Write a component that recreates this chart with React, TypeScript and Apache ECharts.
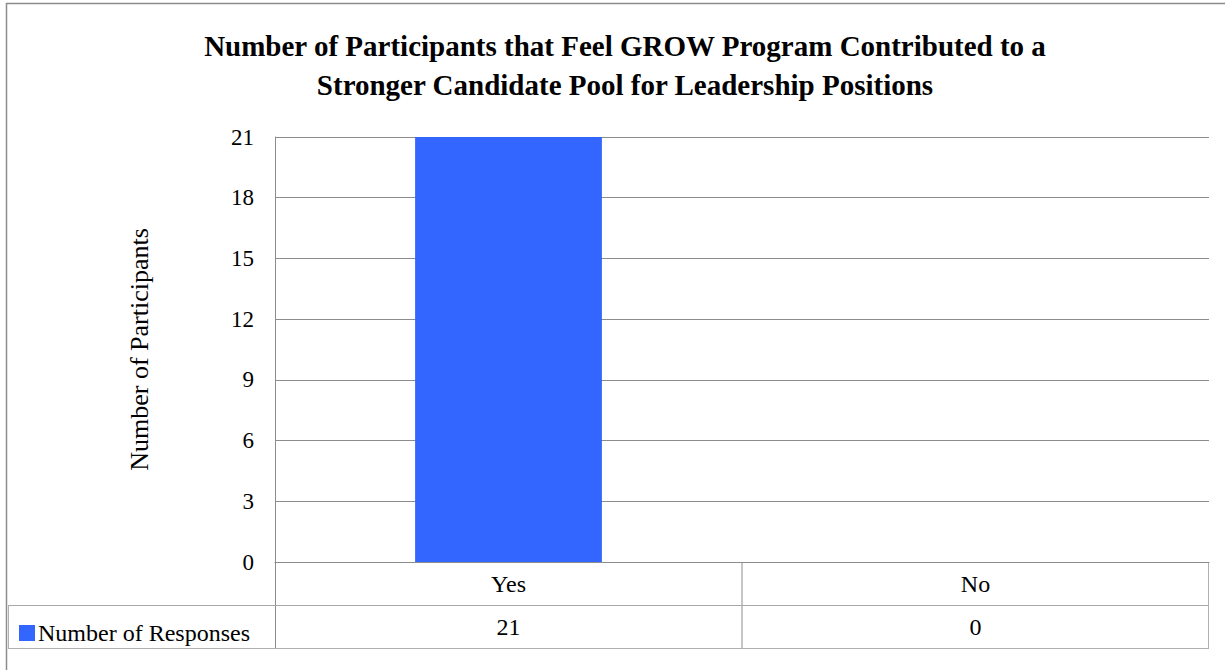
import React, { useEffect, useRef } from "react";
import * as echarts from "echarts";

const categories = ["Yes", "No"];
const responses = [21, 0];
const seriesName = "Number of Responses";
const yTicks = { min: 0, max: 21, interval: 3 };
const titleLines = [
  "Number of Participants that Feel GROW Program Contributed to a",
  "Stronger Candidate Pool for Leadership Positions",
];
const yAxisName = "Number of Participants";

const FONT = "'Liberation Serif', 'Times New Roman', serif";
const GRID_COLOR = "#8c8c8c";
const BAR_COLOR = "#3366ff";

export default function App() {
  const ref = useRef<HTMLDivElement>(null);
  useEffect(() => {
    document.body.style.margin = "0";
    const chart = echarts.init(ref.current!, null, { renderer: "svg" });
    const gridLeft = 275, gridTop = 137, gridRight = 1209, gridBottom = 562;
    const rowH = 43;
    const midX = (gridLeft + gridRight) / 2;
    chart.setOption({
      animation: false,
      backgroundColor: "#ffffff",
      title: {
        text: titleLines.join("\n"),
        left: 620,
        top: 21,
        textAlign: "center",
        textStyle: { fontFamily: FONT, fontSize: 29, fontWeight: "bold", color: "#000", lineHeight: 39 },
      },
      legend: {
        left: 14,
        top: 616,
        icon: "rect",
        itemWidth: 16,
        itemHeight: 16,
        itemGap: 6,
        textStyle: { fontFamily: FONT, fontSize: 24, color: "#000", padding: [0, 0, 0, -2] },
        data: [seriesName],
      },
      grid: { left: gridLeft, top: gridTop, right: 1225 - gridRight, bottom: 670 - gridBottom, containLabel: false },
      xAxis: {
        type: "category",
        data: categories,
        axisLine: { show: true, lineStyle: { color: GRID_COLOR, width: 1 } },
        axisTick: { show: false },
        axisLabel: {
          margin: 0,
          interval: 0,
          formatter: (v: string, i: number) => `{c|${v}}\n{v|${responses[i]}}`,
          rich: {
            c: { fontFamily: FONT, fontSize: 24, color: "#000", lineHeight: rowH, height: rowH },
            v: { fontFamily: FONT, fontSize: 24, color: "#000", lineHeight: rowH, height: rowH },
          },
        },
      },
      yAxis: {
        type: "value",
        min: yTicks.min,
        max: yTicks.max,
        interval: yTicks.interval,
        name: yAxisName,
        nameLocation: "middle",
        nameGap: 123,
        nameTextStyle: { fontFamily: FONT, fontSize: 26, color: "#000" },
        axisLine: { show: true, lineStyle: { color: GRID_COLOR, width: 1 } },
        axisTick: { show: false },
        axisLabel: { fontFamily: FONT, fontSize: 23, color: "#000", margin: 21 },
        splitLine: { show: true, lineStyle: { color: GRID_COLOR, width: 1 } },
      },
      series: [
        {
          name: seriesName,
          type: "bar",
          data: responses,
          barWidth: "40%",
          itemStyle: { color: BAR_COLOR },
        },
      ],
      graphic: [
        { type: "line", shape: { x1: 6, y1: 3.5, x2: 1225, y2: 3.5 }, style: { stroke: GRID_COLOR, lineWidth: 1.5 } },
        { type: "line", shape: { x1: 6.5, y1: 3, x2: 6.5, y2: 670 }, style: { stroke: GRID_COLOR, lineWidth: 1.5 } },
        { type: "line", shape: { x1: gridLeft + 0.5, y1: gridBottom, x2: gridLeft + 0.5, y2: gridBottom + 2 * rowH }, style: { stroke: GRID_COLOR, lineWidth: 1 } },
        { type: "line", shape: { x1: midX, y1: gridBottom, x2: midX, y2: gridBottom + 2 * rowH }, style: { stroke: GRID_COLOR, lineWidth: 1 } },
        { type: "line", shape: { x1: gridRight - 0.5, y1: gridBottom, x2: gridRight - 0.5, y2: gridBottom + 2 * rowH }, style: { stroke: "#b0b0b0", lineWidth: 1 } },
        { type: "line", shape: { x1: 8, y1: gridBottom + rowH + 0.5, x2: gridRight, y2: gridBottom + rowH + 0.5 }, style: { stroke: "#a8a8a8", lineWidth: 1 } },
        { type: "line", shape: { x1: 8, y1: gridBottom + 2 * rowH + 0.5, x2: gridRight, y2: gridBottom + 2 * rowH + 0.5 }, style: { stroke: "#b0b0b0", lineWidth: 1 } },
        { type: "line", shape: { x1: 8.5, y1: gridBottom + rowH, x2: 8.5, y2: gridBottom + 2 * rowH }, style: { stroke: "#b0b0b0", lineWidth: 1 } },
      ],
    });
    return () => chart.dispose();
  }, []);
  return <div ref={ref} style={{ width: 1225, height: 670 }} />;
}
